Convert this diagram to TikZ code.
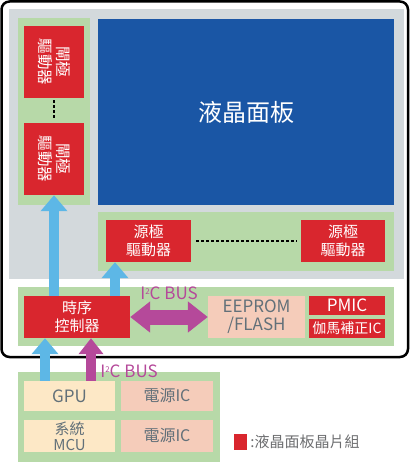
\documentclass[tikz,border=0pt]{standalone}
\usepackage{fontspec}
\setmainfont{Noto Sans CJK TC}
\usetikzlibrary{positioning}
\usetikzlibrary{arrows.meta}

\definecolor{chipred}{HTML}{D9262E}
\definecolor{boardgreen}{HTML}{B7D9A8}
\definecolor{panelgrey}{HTML}{D3D9DC}
\definecolor{panelblue}{HTML}{1A56A5}
\definecolor{arrowblue}{HTML}{5DB7E6}
\definecolor{busmagenta}{HTML}{B5499A}
\definecolor{partpeach}{HTML}{F5CCBA}
\definecolor{partyellow}{HTML}{FDE8C6}
\definecolor{labelgrey}{HTML}{627079}
\definecolor{legendgrey}{HTML}{6D6E70}

\newcommand{\pxfont}[1]{\fontsize{#1}{18}\selectfont}
\newcommand{\iisq}{I\raisebox{5pt}{\fontsize{8}{8}\selectfont 2}C BUS}

\tikzset{
	boxsize/.style 2 args={minimum width=#1pt, minimum height=#2pt},
	chip/.style={fill=chipred, text=white, inner sep=0pt, align=center, font=\fontsize{15}{18}\selectfont},
	part/.style={fill=partpeach, text=labelgrey, inner sep=0pt, align=center, font=\fontsize{16}{18}\selectfont},
	host/.style={part, fill=partyellow},
	gatetext/.style={rotate=-90, align=center, text=white, font=\fontsize{15.5}{18}\selectfont},
	sigarrow/.style={arrowblue, line width=10pt, -{Triangle[width=26pt,length=16pt]}},
	busarrow/.style={busmagenta, line width=10pt, -{Triangle[width=24pt,length=16pt]}},
	busboth/.style={busmagenta, line width=15pt, {Triangle[width=30pt,length=20pt]}-{Triangle[width=30pt,length=20pt]}},
	dotline/.style={line width=2.5pt, dash pattern=on 2.5pt off 2.5pt},
	buslabel/.style={text=busmagenta, inner sep=0pt, font=\fontsize{17}{18}\selectfont}
}

\begin{document}
\begin{tikzpicture}[x=1pt, y=-1pt]
\useasboundingbox (0,0) rectangle (411,462);

% frame and boards
\draw[line width=2.5pt, rounded corners=8pt, fill=white] (1.5,1.5) rectangle (408,357);
\fill[panelgrey] (9,9) rectangle (404,279);
\fill[boardgreen] (18,18) rectangle (90,205);
\fill[boardgreen] (98,212) rectangle (394,271);
\fill[boardgreen] (18,287) rectangle (394,346);
\fill[boardgreen] (18,372) rectangle (220,462);

\node[fill=panelblue, text=white, boxsize={296}{185}, font=\fontsize{24}{28}\selectfont] (lcd) at (246,112) {液晶面板};

\node[chip, boxsize={60}{72}, label={[gatetext]center:閘極\\驅動器}] (gate1) at (54,62) {};
\node[chip, boxsize={60}{72}, label={[gatetext]center:閘極\\驅動器}] (gate2) at (54,159) {};
\draw[dotline, shorten <=2pt, shorten >=3pt] (gate1.south) -- (gate2.north);

\node[chip, boxsize={85}{42}] (src1) at (148.5,241) {源極\\驅動器};
\node[chip, boxsize={84}{42}] (src2) at (343,241) {源極\\驅動器};
\draw[dotline, shorten <=5pt, shorten >=4pt] (src1.east) -- (src2.west);

\node[chip, boxsize={106}{42}] (tcon) at (77,317) {時序\\控制器};
\node[part, boxsize={97}{42}, font=\pxfont{17}] (eeprom) at (256.5,317) {EEPROM\\/FLASH};
\node[chip, boxsize={76}{19}, font=\pxfont{17}] (pmic) at (347,305.5) {PMIC};
\node[chip, boxsize={76}{19}, font=\pxfont{14}] (gamma) at (347,328.5) {伽馬補正IC};

\node[host, boxsize={91}{30}, font=\pxfont{17}] (gpu) at (69.5,396) {GPU};
\node[part, boxsize={92}{30}] (pwr1) at (167,396) {電源IC};
\node[host, boxsize={91}{32}, font=\fontsize{15}{16}\selectfont] (mcu) at (69.5,436) {系統\\MCU};
\node[part, boxsize={92}{32}] (pwr2) at (167,436) {電源IC};

% signal paths
\coordinate (srcfeed) at ([xshift=38pt]tcon.north);
\coordinate (gpufeed) at ([xshift=-24.5pt]gpu.north);
\coordinate (i2cfeed) at ([xshift=21.5pt]gpu.north);
\draw[sigarrow] (gate2.south |- tcon.north) -- (gate2.south);
\draw[sigarrow] (srcfeed) -- (srcfeed |- src1.south);
\draw[busboth] (tcon.east) -- (eeprom.west);
\draw[sigarrow] (gpufeed) -- (gpufeed |- tcon.south);
\draw[busarrow] (i2cfeed) -- (i2cfeed |- tcon.south);

\node[buslabel] (busupper) at (169,293) {\iisq};
\node[buslabel] (buslower) at (129,371) {\iisq};

% legend
\node[fill=chipred, boxsize={13}{16}, inner sep=0pt] (legendkey) at (240.5,442) {};
\node[right=3pt of legendkey, text=legendgrey, inner sep=0pt, font=\fontsize{15}{18}\selectfont] (legendtext) {:液晶面板晶片組};
\end{tikzpicture}
\end{document}
